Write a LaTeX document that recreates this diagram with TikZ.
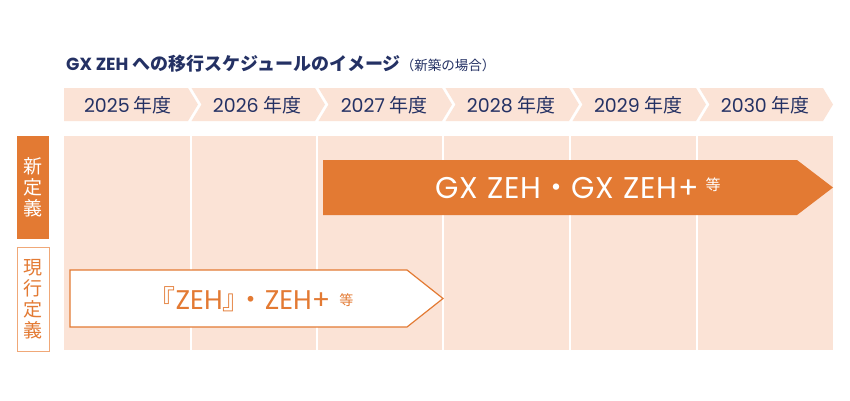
\documentclass[tikz,border=0pt]{standalone}
\usepackage{fontspec}
\setmainfont{Noto Sans CJK JP}
\newfontfamily\lat{Poppins}
\newfontfamily\latsp{Poppins}[LetterSpace=3]
\definecolor{peach}{HTML}{FBE3D6}
\definecolor{org}{HTML}{E37A33}
\definecolor{navy}{HTML}{243164}
\definecolor{lorg}{HTML}{F0A878}
\tikzset{
  yearlbl/.style={text=navy, font=\fontsize{19}{19}\selectfont, inner sep=0pt, anchor=center},
  sidebox/.style={minimum width=32pt, minimum height=103pt, inner sep=0pt, align=center, font=\fontsize{19}{21}\selectfont},
  gridline/.style={white, line width=1.5pt},
}
\begin{document}
\begin{tikzpicture}[x=1pt,y=-1pt]
\useasboundingbox (0,0) rectangle (850,400);
\fill[white] (0,0) rectangle (850,400);
% title
\node[anchor=base west, text=navy, inner sep=0pt, font=\bfseries\fontsize{18}{18}\selectfont] (title) at (66,70)
  {{\lat\bfseries\fontsize{17.5}{18}\selectfont GX ZEH} への移行スケジュールのイメージ{\mdseries\fontsize{13.5}{13.5}\selectfont（新築の場合）}};
% year chevrons
\fill[peach] (64,88) -- (188,88) -- (198,104.5) -- (188,121) -- (64,121) -- cycle;
\foreach \i in {1,...,5}{
  \pgfmathsetmacro{\bl}{188+127*(\i-1)+3.5}
  \pgfmathsetmacro{\br}{188+127*\i}
  \fill[peach] (\bl,88) -- (\br,88) -- (\br+10,104.5) -- (\br,121) -- (\bl,121) -- (\bl+10,104.5) -- cycle;
}
\node[yearlbl] (y2025) at (128,105) {{\lat 2025} 年度};
\node[yearlbl] (y2026) at (257,105) {{\lat 2026} 年度};
\node[yearlbl] (y2027) at (384,105) {{\lat 2027} 年度};
\node[yearlbl] (y2028) at (511,105) {{\lat 2028} 年度};
\node[yearlbl] (y2029) at (638,105) {{\lat 2029} 年度};
\node[yearlbl] (y2030) at (765,105) {{\lat 2030} 年度};
% grid background
\fill[peach] (64,136) rectangle (833,350);
\foreach \x in {191,317,443,570,697}{
  \draw[gridline] (\x,136) -- (\x,350);
}
% side labels
\node[sidebox, fill=org, text=white] (newdef) at (33,187.5) {新\\定\\義};
\node[sidebox, fill=white, draw=lorg, line width=1pt, text=org, minimum height=104pt] (curdef) at (33,299) {現\\行\\定\\義};
% orange arrow
\fill[org] (323,160) -- (797,160) -- (833,187.5) -- (797,215) -- (323,215) -- cycle;
\node[text=white, inner sep=0pt, font=\fontsize{30}{30}\selectfont] (gxzeh) at (578,188)
  {{\latsp GX ZEH}・{\latsp GX ZEH+}\hspace{7pt}\raisebox{8pt}{\fontsize{15}{15}\selectfont 等}};
% white arrow
\filldraw[fill=white, draw=org, line width=1.2pt] (70,270) -- (407,270) -- (443,298.5) -- (407,327) -- (70,327) -- cycle;
\node[text=org, inner sep=0pt, font=\fontsize{27}{27}\selectfont] (zeh) at (251,299)
  {『{\lat ZEH}』\kern-12pt・{\lat ZEH+}\hspace{9pt}\raisebox{3.5pt}{\fontsize{14}{14}\selectfont 等}};
\end{tikzpicture}
\end{document}
